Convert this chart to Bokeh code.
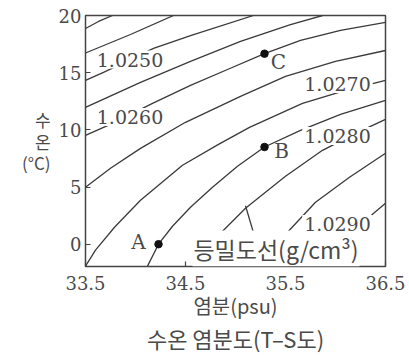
from bokeh.plotting import figure
from bokeh.models import Range1d, Label, FixedTicker, Title
from bokeh.embed import file_html
from bokeh.resources import INLINE

# ---------------- data ----------------
sal_ticks = [33.5, 34.5, 35.5, 36.5]
temp_ticks = [0, 5, 10, 15, 20]

# isopycnals: salinity (psu) / temperature (degC) pairs
c1_s = [33.50, 33.63, 33.77]
c1_t = [18.86, 19.48, 20.00]
c2_s = [33.50, 33.95, 34.38]
c2_t = [16.72, 18.34, 20.00]
c3_s = [33.50, 33.68, 34.18, 34.55, 35.18]          # 1.0250
c3_t = [14.32, 15.02, 17.12, 18.25, 20.00]
c4_s = [33.50, 34.05, 34.55, 35.05, 35.55, 35.87]
c4_t = [11.97, 14.15, 15.98, 17.73, 19.21, 20.00]
c5_s = [33.50, 33.77, 34.17, 34.55, 34.92, 35.29, 35.65, 36.05, 36.50]   # 1.0260
c5_t = [9.52, 10.57, 12.31, 13.89, 15.28, 16.66, 17.82, 18.69, 19.39]
c6_s = [33.50, 33.75, 34.05, 34.50, 35.05, 35.50, 36.00, 36.50]
c6_t = [4.98, 6.64, 8.38, 10.66, 12.93, 14.67, 15.98, 16.94]
c7_s = [33.50, 33.60, 33.79, 34.05, 34.47, 34.83, 35.14, 35.67, 36.10, 36.50]   # 1.0270
c7_t = [-1.92, -0.52, 1.48, 3.84, 6.90, 8.73, 10.22, 12.31, 13.45, 14.32]
c8_s = [34.12, 34.23, 34.37, 34.55, 34.77, 35.02, 35.29, 35.65, 36.05, 36.50]
c8_t = [-1.92, 0.00, 1.57, 3.23, 4.98, 6.81, 8.50, 9.96, 11.35, 12.58]
c9_s = [34.67, 34.75, 34.85, 35.10, 35.50, 35.87, 36.20, 36.50]   # 1.0280
c9_t = [-1.92, -0.52, 0.96, 3.14, 5.94, 8.21, 9.69, 10.92]
c10_s = [35.35, 35.43, 35.52, 35.80, 36.14, 36.50]
c10_t = [-1.92, -0.52, 1.05, 3.67, 5.85, 7.95]
c11_s = [36.02, 36.09, 36.18, 36.28, 36.37, 36.50]   # 1.0290
c11_t = [-1.92, -0.70, 0.52, 1.66, 2.62, 3.58]

iso_labels = ["1.0250", "1.0260", "1.0270", "1.0280", "1.0290"]

pt_names = ["A", "B", "C"]
pt_s = [34.23, 35.29, 35.29]
pt_t = [0.00, 8.50, 16.66]

leader_s = [35.10, 35.19]
leader_t = [3.36, 0.71]

# ---------------- figure ----------------
INK = "#3a3a3a"
TXT = "#4a4a4a"
SERIF = "DejaVu Serif"
KR = "Noto Sans CJK KR"

p = figure(width=408, height=355,
           x_range=Range1d(33.5, 36.5), y_range=Range1d(-1.95, 20),
           output_backend="svg", toolbar_location=None,
           min_border_left=85, min_border_right=23,
           min_border_top=15, min_border_bottom=89)
p.grid.visible = False
p.outline_line_color = "#444444"
p.outline_line_width = 1.5
p.background_fill_color = "white"
p.border_fill_color = "white"

for ax in (p.xaxis[0], p.yaxis[0]):
    ax.axis_line_color = None
    ax.major_tick_in = 5
    ax.major_tick_out = 0
    ax.major_tick_line_color = "#444444"
    ax.major_tick_line_width = 1.2
    ax.minor_tick_line_color = None
    ax.major_label_text_font = SERIF
    ax.major_label_text_font_size = "18px"
    ax.major_label_text_color = TXT
p.xaxis.ticker = FixedTicker(ticks=sal_ticks)
p.yaxis.ticker = FixedTicker(ticks=temp_ticks)
p.xaxis.major_label_standoff = 9
p.yaxis.major_label_standoff = 4

p.xaxis.axis_label = "염분(psu)"
p.xaxis.axis_label_text_font = KR
p.xaxis.axis_label_text_font_size = "20px"
p.xaxis.axis_label_text_font_style = "normal"
p.xaxis.axis_label_text_color = TXT
p.xaxis.axis_label_standoff = -2

p.yaxis.axis_label = "수\n온\n(°C)"
p.yaxis.axis_label_orientation = "horizontal"
p.yaxis.axis_label_text_font = KR
p.yaxis.axis_label_text_font_size = "17px"
p.yaxis.axis_label_text_font_style = "normal"
p.yaxis.axis_label_text_line_height = 0.85
p.yaxis.axis_label_text_color = TXT
p.yaxis.axis_label_standoff = 5

p.add_layout(Title(text="수온 염분도(T–S도)", align="center", text_font=KR,
                   text_font_size="22px", text_font_style="normal",
                   text_color=TXT, standoff=-5), "below")

curves = [(c1_s, c1_t), (c2_s, c2_t), (c3_s, c3_t), (c4_s, c4_t), (c5_s, c5_t),
          (c6_s, c6_t), (c7_s, c7_t), (c8_s, c8_t), (c9_s, c9_t), (c10_s, c10_t),
          (c11_s, c11_t)]
for s, t in curves:
    p.line(s, t, line_color=INK, line_width=1.3)

p.line(leader_s, leader_t, line_color=INK, line_width=1.3)

p.scatter(pt_s, pt_t, size=7.5, color="#111111")

# legend-like label for the isopycnals (drawn first, so number labels sit on top)
p.add_layout(Label(x=35.405, y=-0.38, text="등밀도선(g/cm³)", text_align="center",
                   text_baseline="middle", text_font=KR, text_font_size="23px",
                   text_color=TXT, background_fill_color="white",
                   background_fill_alpha=1.0, padding=1))

# inline isopycnal labels (white box masks the curve)
label_pos = [(33.945, 16.15), (33.945, 11.12), (36.02, 14.01), (36.02, 9.46), (36.02, 1.77)]
for txt, (lx, ly) in zip(iso_labels, label_pos):
    p.add_layout(Label(x=lx, y=ly, text=txt, text_align="center", text_baseline="middle",
                       text_font=SERIF, text_font_size="19px", text_color=TXT,
                       background_fill_color="white", background_fill_alpha=1.0,
                       padding=2))

# point labels
offs = [(-0.20, 0.23), (0.17, -0.39), (0.14, -0.77)]
for name, s, t, (dx, dy) in zip(pt_names, pt_s, pt_t, offs):
    p.add_layout(Label(x=s + dx, y=t + dy, text=name, text_align="center",
                       text_baseline="middle", text_font=SERIF, text_font_size="20px",
                       text_color=TXT))

open("out.html", "w").write(file_html(p, INLINE))
